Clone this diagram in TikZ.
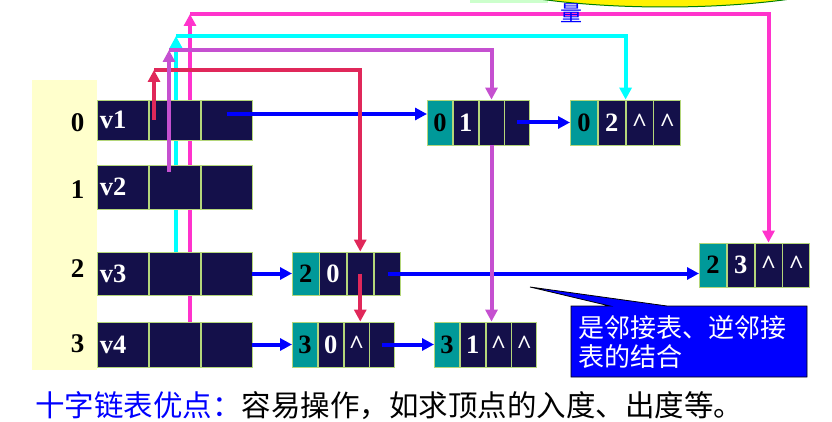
\documentclass[tikz,border=0pt]{standalone}
\usepackage{fontspec}
\setmainfont{Liberation Serif}
\newfontfamily\cjk{Noto Sans CJK SC}
\usetikzlibrary{positioning,arrows.meta}

\definecolor{navy}{HTML}{14104A}
\definecolor{tealc}{HTML}{009999}
\definecolor{cellgreen}{HTML}{B4D67A}
\definecolor{ybg}{HTML}{FFFFCC}
\definecolor{lgreen}{HTML}{CCFFCC}
\definecolor{redlink}{HTML}{E0285A}
\definecolor{purplelink}{HTML}{C550D0}
\definecolor{cyanlink}{HTML}{00FFFF}
\definecolor{pinklink}{HTML}{FF33CC}

\tikzset{
  cell/.style={draw=cellgreen, line width=0.8pt, fill=navy, text=white,
    inner sep=0pt, minimum height=44pt, font=\fontsize{26.5}{26.5}\selectfont\bfseries},
  vcell/.style={cell, minimum width=51pt},
  vname/.style={text width=46pt, align=left},
  acell/.style={cell, minimum height=45pt, minimum width=#1},
  headcell/.style={acell=#1, fill=tealc, text=black},
  idx/.style={anchor=east, font=\fontsize{27}{27}\selectfont\bfseries},
  link/.style={line width=4pt, -{Triangle[length=12pt,width=12pt]}},
  note/.style={anchor=west, align=left, text=white, inner sep=0pt,
    font=\cjk\fontsize{26}{29}\selectfont}
}

\begin{document}
\begin{tikzpicture}[x=1pt, y=-1pt, node distance=0pt]
  \useasboundingbox (0,0) rectangle (832,422);

  % what is left of the slide above
  \begin{scope}
    \clip (0,0) rectangle (832,422);
    \fill[lgreen] (470,-10) rectangle (548,3);
    \filldraw[fill=yellow, draw=green!50!black, line width=1pt] (665,-40) ellipse (225 and 47);
  \end{scope}

  % vertex table: index column
  \fill[ybg] (32,80) rectangle (97,370);
  \node[idx] (i0) at (88,123) {0};
  \node[idx] (i1) at (88,190) {1};
  \node[idx] (i2) at (88,269) {2};
  \node[idx] (i3) at (88,344) {3};

  % firstin links of v3 and v4 run behind the table
  \coordinate (cA) at (176,252);
  \coordinate (cB) at (176,36);
  \coordinate (kA) at (190,322);
  \coordinate (kB) at (190,14);
  \draw[link, cyanlink] (cA) -- (cB);
  \draw[link, pinklink] (kA) -- (kB);

  % vertex nodes: data, firstin, firstout
  \node[vcell, vname, anchor=west, minimum height=40pt] (v1d) at (97,120) {v1};
  \node[vcell, minimum height=40pt, right=of v1d] (v1i) {};
  \node[vcell, minimum height=40pt, right=of v1i] (v1o) {};
  \node[vcell, vname, anchor=west] (v2d) at (97,187) {v2};
  \node[vcell, right=of v2d] (v2i) {};
  \node[vcell, right=of v2i] (v2o) {};
  \node[vcell, vname, anchor=west, minimum height=43pt] (v3d) at (97,273.5) {v3};
  \node[vcell, minimum height=43pt, right=of v3d] (v3i) {};
  \node[vcell, minimum height=43pt, right=of v3i] (v3o) {};
  \node[vcell, vname, anchor=west, minimum height=45pt] (v4d) at (97,344.5) {v4};
  \node[vcell, minimum height=45pt, right=of v4d] (v4i) {};
  \node[vcell, minimum height=45pt, right=of v4i] (v4o) {};

  % arc nodes: tailvex, headvex, hlink, tlink
  \node[headcell=25pt, anchor=west] (a01tv) at (427,122.5) {0};
  \node[acell=25pt, right=of a01tv] (a01hv) {1};
  \node[acell=25pt, right=of a01hv] (a01hl) {};
  \node[acell=25pt, right=of a01hl] (a01tl) {};

  \node[headcell=27pt, anchor=west] (a02tv) at (570,122.5) {0};
  \node[acell=27pt, right=of a02tv] (a02hv) {2};
  \node[acell=27pt, right=of a02hv] (a02hl) {\textasciicircum};
  \node[acell=27pt, right=of a02hl] (a02tl) {\textasciicircum};

  \node[headcell=26.5pt, anchor=west, minimum height=43pt] (a20tv) at (292,273.5) {2};
  \node[acell=26.5pt, minimum height=43pt, right=of a20tv] (a20hv) {0};
  \node[acell=26.5pt, minimum height=43pt, right=of a20hv] (a20hl) {};
  \node[acell=26.5pt, minimum height=43pt, right=of a20hl] (a20tl) {};

  \node[headcell=27pt, anchor=west, minimum height=44pt] (a23tv) at (699,265) {2};
  \node[acell=27pt, minimum height=44pt, right=of a23tv] (a23hv) {3};
  \node[acell=27pt, minimum height=44pt, right=of a23hv] (a23hl) {\textasciicircum};
  \node[acell=27pt, minimum height=44pt, right=of a23hl] (a23tl) {\textasciicircum};

  \node[headcell=25pt, anchor=west] (a30tv) at (292,344.5) {3};
  \node[acell=25pt, right=of a30tv] (a30hv) {0};
  \node[acell=25pt, right=of a30hv] (a30hl) {\textasciicircum};
  \node[acell=25pt, right=of a30hl] (a30tl) {};

  \node[headcell=25pt, anchor=west] (a31tv) at (434,344.5) {3};
  \node[acell=25pt, right=of a31tv] (a31hv) {1};
  \node[acell=25pt, right=of a31hv] (a31hl) {\textasciicircum};
  \node[acell=25pt, right=of a31hl] (a31tl) {\textasciicircum};

  % out-lists (blue)
  \draw[link, blue] ([yshift=6pt]v1o.center) -- ([yshift=6pt]v1o.center -| a01tv.west);
  \draw[link, blue] (a01tl.center) -- (a01tl.center -| a02tv.west);
  \draw[link, blue] (v3o.east) -- (a20tv.west);
  \draw[link, blue] (a20tl.center) -- (a20tl.center -| a23tv.west);
  \draw[link, blue] (v4o.east) -- (a30tv.west);
  \draw[link, blue] (a30tl.center) -- (a31tv.west);

  % in-lists
  \draw[link, cyanlink] (cB) -| (a02hl.north west);
  \draw[link, pinklink] (kB) -| (a23hl.north);

  \coordinate (rA) at (154,120);
  \coordinate (rB) at (154,70);
  \draw[link, redlink] (rA) -- (rB);
  \draw[link, redlink] (rB) -| (a20hl.north);
  \draw[link, redlink] (a20hl.center) -- (a20hl.center |- a30hl.north);

  \coordinate (pA) at (169,172);
  \coordinate (pB) at (169,50);
  \draw[link, purplelink] (pA) -- (pB);
  \draw[link, purplelink] (pB) -| (a01hl.north);
  \draw[link, purplelink] (a01hl.south) -- (a01hl.south |- a31hl.north);

  \node[text=blue, font=\cjk\fontsize{22}{22}\selectfont] (liang) at (571,13) {量};

  % callout
  \filldraw[fill=blue, draw=black, line width=0.8pt] (571,306) -- (610,306) -- (530,287)
    -- (667,306) -- (807,306) -- (807,377) -- (571,377) -- cycle;
  \node[note] (remark) at (578,342) {是邻接表、逆邻接\\表的结合};

  \node[anchor=west, inner sep=0pt, font=\cjk\fontsize{29.5}{29.5}\selectfont] (summary) at (35,406)
    {\textcolor{blue}{十字链表优点：}容易操作，如求顶点的入度、出度等。};
\end{tikzpicture}
\end{document}
